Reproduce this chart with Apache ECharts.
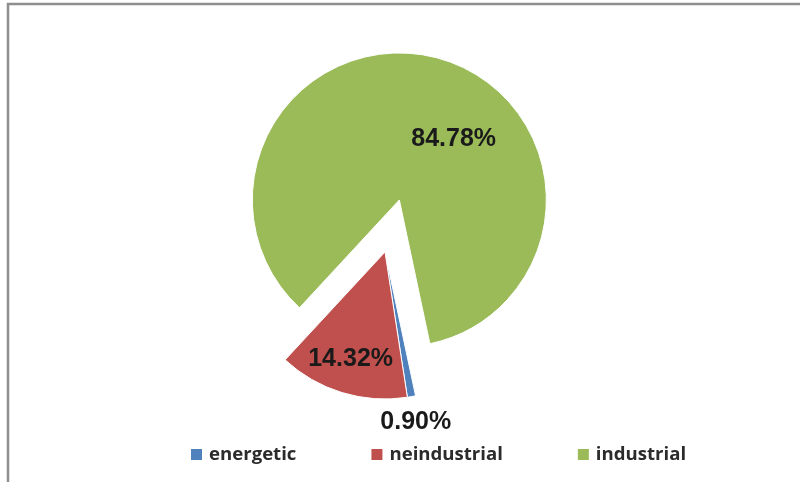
<!DOCTYPE html>
<html>
<head>
<meta charset="utf-8">
<style>
  html, body { margin: 0; padding: 0; background: #fff; }
  #chart { width: 800px; height: 482px; }
</style>
<script src="https://cdn.jsdelivr.net/npm/echarts@6/dist/echarts.min.js"></script>
</head>
<body>
<div id="chart"></div>
<script>
// Share of consumption by sector (percent)
const categories = ['energetic', 'neindustrial', 'industrial'];
const shares = [0.90, 14.32, 84.78];

// Presentation per slice
const sliceColors = ['#4F81BD', '#C0504D', '#9BBB59'];
const pulledOut = [false, false, true];
// Nudge of each percentage label from its default inside spot
const labelShift = [[17, 95], [-12, 34], [34, 13]];

const chart = echarts.init(document.getElementById('chart'), null, { renderer: 'canvas' });

const data = categories.map((name, i) => ({
  name: name,
  value: shares[i],
  selected: pulledOut[i],
  itemStyle: { color: sliceColors[i] },
  select: { itemStyle: { color: sliceColors[i], borderColor: '#fff', borderWidth: 1 } }
}));

chart.setOption({
  animation: false,
  backgroundColor: '#ffffff',
  graphic: [{
    type: 'rect',
    silent: true,
    shape: { x: 8, y: 4, width: 900, height: 600 },
    style: { fill: 'none', stroke: '#8e8e8e', lineWidth: 2.5 }
  }],
  legend: {
    data: categories,
    left: 189,
    top: 445,
    padding: 0,
    itemWidth: 13,
    itemHeight: 13,
    itemGap: 73,
    icon: 'rect',
    selectedMode: false,
    textStyle: {
      fontFamily: 'Open Sans',
      fontWeight: 'bold',
      fontSize: 18.6,
      color: '#2b2b2b',
      padding: [0, 0, 0, 1]
    }
  },
  series: [{
    type: 'pie',
    center: [385, 252],
    radius: 147,
    startAngle: -78,
    clockwise: true,
    selectedMode: 'multiple',
    selectedOffset: 54,
    avoidLabelOverlap: false,
    emphasis: { disabled: true },
    itemStyle: { borderColor: '#ffffff', borderWidth: 1 },
    label: {
      show: true,
      position: 'inside',
      formatter: (p) => p.value.toFixed(2) + '%',
      fontFamily: 'Liberation Sans',
      fontWeight: 'bold',
      fontSize: 25,
      color: '#1a1a1a'
    },
    labelLine: { show: false },
    labelLayout: (params) => {
      const s = labelShift[params.dataIndex];
      return { dx: s[0], dy: s[1] };
    },
    data: data
  }]
});
</script>
</body>
</html>
